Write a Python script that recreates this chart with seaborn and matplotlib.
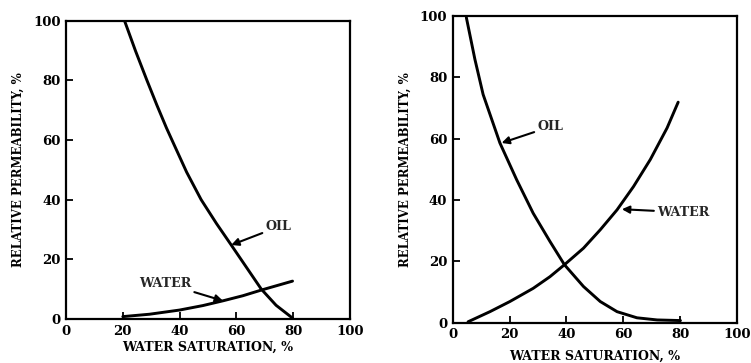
import matplotlib
matplotlib.use("Agg")
import matplotlib.pyplot as plt
import seaborn as sns

# Left panel data
left_oil_sw = [20.6, 24.5, 28.5, 32.0, 35.4, 37.6, 42.5, 47.6, 53.0, 58.2, 63.5, 68.8, 74.0, 79.8]
left_oil_kr = [100, 89.8, 80, 71.7, 64.0, 59.4, 49.2, 40, 32.0, 24.8, 17.4, 10.0, 4.6, 0.3]
left_water_sw = [20.0, 29.4, 40.0, 48.2, 55.3, 62.3, 68.8, 79.8]
left_water_kr = [0.8, 1.6, 3.0, 4.5, 6.1, 7.8, 9.7, 12.7]

# Right panel data
right_oil_sw = [4.8, 7.8, 10.7, 16.6, 22.5, 28.3, 34.2, 39.3, 46.0, 51.9, 57.8, 64.8, 71.9, 80.1]
right_oil_kr = [99.5, 85.9, 74.4, 58.6, 46.6, 35.7, 26.5, 18.9, 11.8, 6.9, 3.6, 1.6, 0.9, 0.7]
right_water_sw = [5.4, 13.1, 20.1, 28.3, 34.2, 39.3, 46.0, 51.9, 57.8, 63.6, 69.5, 75.4, 79.3]
right_water_kr = [0.3, 3.6, 6.9, 11.2, 15.0, 18.9, 24.3, 30.3, 36.8, 44.4, 53.2, 63.5, 71.9]

x_ticks = [0, 20, 40, 60, 80, 100]
y_ticks = [0, 20, 40, 60, 80, 100]
x_label = "WATER SATURATION, %"
y_label = "RELATIVE PERMEABILITY, %"

sns.set_theme(style="white")
plt.rcParams['font.family'] = ['DejaVu Serif']
plt.rcParams['font.weight'] = 'bold'

fig = plt.figure(figsize=(7.51, 3.63), dpi=100)
axL = fig.add_axes([0.0879, 0.1212, 0.378, 0.822])
axR = fig.add_axes([0.6028, 0.111, 0.3786, 0.845])

lw = 2.1
sns.lineplot(x=left_oil_sw, y=left_oil_kr, ax=axL, color='black', lw=lw, sort=False)
sns.lineplot(x=left_water_sw, y=left_water_kr, ax=axL, color='black', lw=lw, sort=False)
sns.lineplot(x=right_oil_sw, y=right_oil_kr, ax=axR, color='black', lw=lw, sort=False)
sns.lineplot(x=right_water_sw, y=right_water_kr, ax=axR, color='black', lw=lw, sort=False)

arrow = dict(arrowstyle='-|>', color='black', lw=1.5, mutation_scale=11, shrinkA=0, shrinkB=0)
fs_ann = 9.2
axL.annotate("OIL", xy=(58.2, 24.8), xytext=(70.3, 30.9), fontsize=fs_ann, fontweight='bold',
             va='center', ha='left', arrowprops=arrow)
axL.annotate("WATER", xy=(55.3, 6.1), xytext=(25.6, 12.0), fontsize=fs_ann, fontweight='bold',
             va='center', ha='left', arrowprops=arrow)
axR.annotate("OIL", xy=(17.2, 58.6), xytext=(29.8, 63.9), fontsize=fs_ann, fontweight='bold',
             va='center', ha='left', arrowprops=arrow)
axR.annotate("WATER", xy=(59.5, 37.0), xytext=(71.9, 36.0), fontsize=fs_ann, fontweight='bold',
             va='center', ha='left', arrowprops=arrow)

for ax, xpad in ((axL, 2), (axR, 6)):
    ax.set_xlim(0, 100)
    ax.set_ylim(0, 100)
    ax.set_xticks(x_ticks)
    ax.set_yticks(y_ticks)
    ax.tick_params(axis='both', direction='in', length=5, width=1.3, color='black',
                   labelsize=9.5, labelcolor='black', pad=4, bottom=True, left=True)
    for lab in ax.get_xticklabels() + ax.get_yticklabels():
        lab.set_fontweight('bold')
    for sp in ax.spines.values():
        sp.set_visible(True)
        sp.set_color('black')
        sp.set_linewidth(1.6)
    ax.set_xlabel(x_label, fontsize=9.0, fontweight='bold', color='black', labelpad=xpad)
    ax.set_ylabel(y_label, fontsize=8.5, fontweight='bold', color='black', labelpad=6)
    ax.grid(False)

fig.savefig("out.png", dpi=100, facecolor='white')
